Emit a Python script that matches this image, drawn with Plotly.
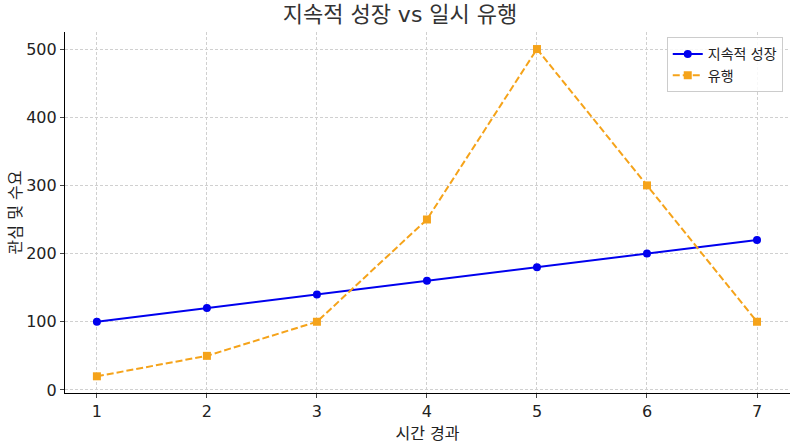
import plotly.graph_objects as go

weeks = [1, 2, 3, 4, 5, 6, 7]
steady = [100, 120, 140, 160, 180, 200, 220]
fad = [20, 50, 100, 250, 500, 300, 100]

title = "지속적 성장 vs 일시 유행"
steady_name = "지속적 성장"
fad_name = "유행"
x_title = "시간 경과"
y_title = "관심 및 수요"

font_family = "DejaVu Sans, Noto Sans CJK KR, sans-serif"

fig = go.Figure()
fig.add_trace(go.Scatter(
    x=weeks, y=steady, name=steady_name, mode="lines+markers",
    line=dict(color="#0000ee", width=2),
    marker=dict(symbol="circle", size=8, color="#0000ee"),
))
fig.add_trace(go.Scatter(
    x=weeks, y=fad, name=fad_name, mode="lines+markers",
    line=dict(color="#f5a31a", width=2, dash="7px,3px"),
    marker=dict(symbol="square", size=8, color="#f5a31a"),
))

fig.update_layout(
    width=800, height=443,
    plot_bgcolor="white", paper_bgcolor="white",
    font=dict(family=font_family, size=14, color="#222"),
    title=dict(text=title, x=0.5, xanchor="center", y=0.985, yanchor="top",
               font=dict(size=22, color="#333")),
    margin=dict(l=65, r=10, t=32, b=50),
    showlegend=True,
    legend=dict(x=0.99, y=0.985, xanchor="right", yanchor="top",
                bgcolor="rgba(255,255,255,0.85)", bordercolor="#ccc", borderwidth=1,
                font=dict(size=14)),
    xaxis=dict(
        title=dict(text=x_title, font=dict(size=16), standoff=10),
        range=[0.71, 7.3], tickvals=weeks, ticks="outside", ticklen=4,
        showgrid=True, gridcolor="#d0d0d0", griddash="3px,2px", gridwidth=1,
        showline=True, linecolor="black", linewidth=1.2, zeroline=False,
        tickfont=dict(size=16), automargin=False,
    ),
    yaxis=dict(
        title=dict(text=y_title, font=dict(size=16), standoff=0),
        range=[-4.5, 525], tickvals=[0, 100, 200, 300, 400, 500], ticks="outside", ticklen=4,
        showgrid=True, gridcolor="#d0d0d0", griddash="3px,2px", gridwidth=1,
        showline=True, linecolor="black", linewidth=1.2, zeroline=False,
        tickfont=dict(size=16), automargin=True,
    ),
)

# drop the page's default body margin so the figure sits at the window corner
fig.write_html("out.html", config={"displayModeBar": False},
               post_script="document.body.style.margin='0';")
